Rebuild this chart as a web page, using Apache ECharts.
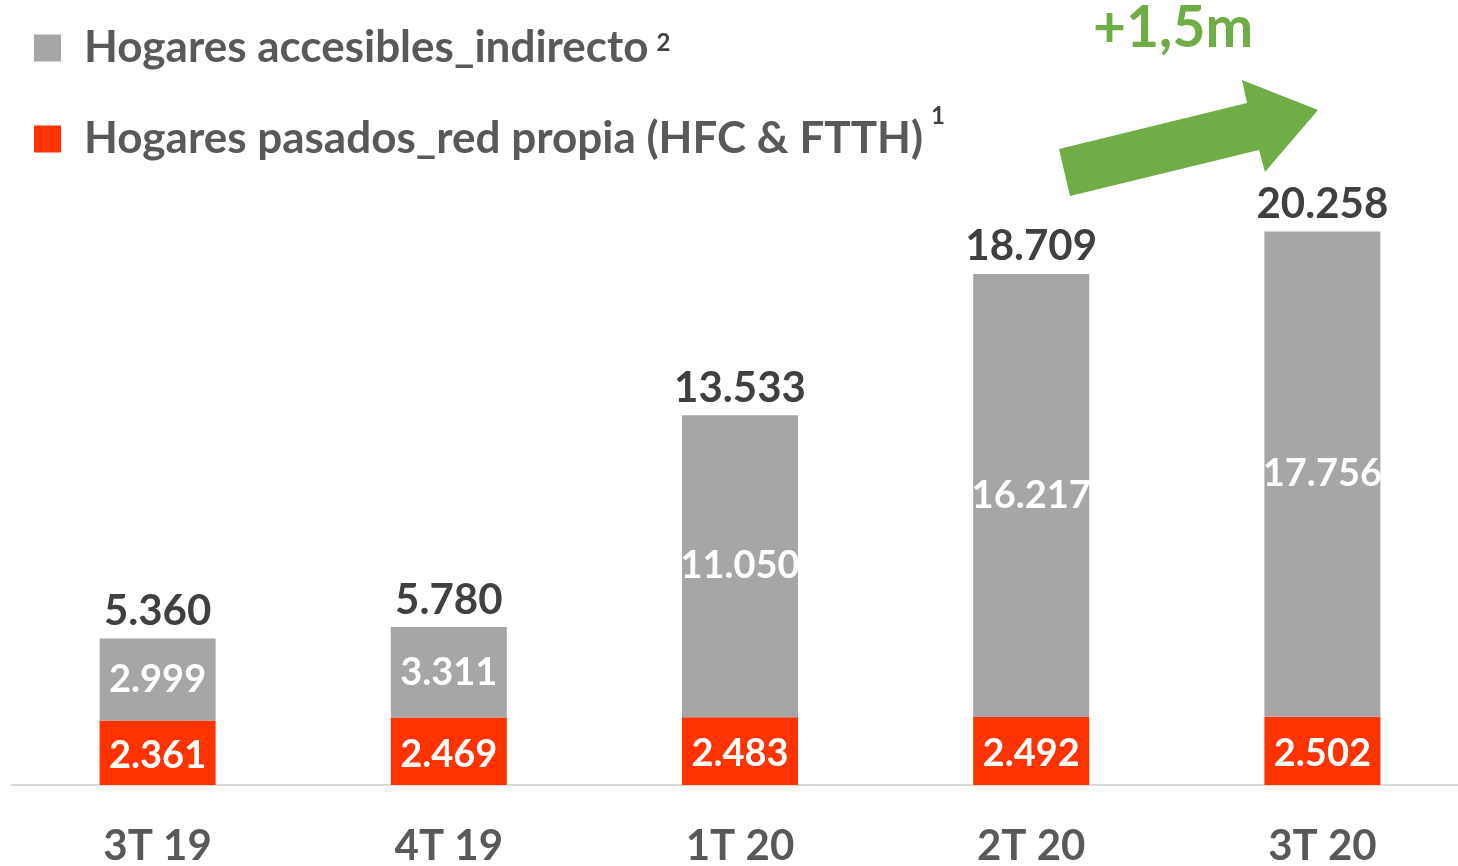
<!DOCTYPE html>
<html>
<head>
<meta charset="utf-8">
<script src="https://cdn.jsdelivr.net/npm/echarts@6/dist/echarts.min.js"></script>
<style>
  html, body { margin: 0; padding: 0; background: #fff; }
  #chart { width: 1458px; height: 866px; }
</style>
</head>
<body>
<div id="chart"></div>
<script>
const quarters = ['3T 19', '4T 19', '1T 20', '2T 20', '3T 20'];
const redPropia = [2361, 2469, 2483, 2492, 2502];
const accesibles = [2999, 3311, 11050, 16217, 17756];
const growthLabel = '+1,5m';

const totals = quarters.map((q, i) => redPropia[i] + accesibles[i]);
const FONT = 'Lato';

// 12345 -> "12.345"
function fmt(v) {
    return String(v).replace(/\B(?=(\d{3})+(?!\d))/g, '.');
}

const chart = echarts.init(document.getElementById('chart'));

const option = {
    animation: false,
    textStyle: { fontFamily: FONT },
    grid: { left: 12, width: 1456, top: 184, bottom: 81, outerBoundsMode: 'none' },
    legend: {
        orient: 'vertical',
        left: 34,
        top: 26,
        padding: 0,
        itemWidth: 27,
        itemHeight: 27,
        itemGap: 33,
        icon: 'rect',
        data: ['accesibles', 'propia'],
        formatter: function (name) {
            if (name === 'accesibles') return '{t|Hogares accesibles_indirecto}{s|2}';
            return '{t|Hogares pasados_red propia (HFC & FTTH)}{s1|1}';
        },
        textStyle: {
            rich: {
                t: { fontSize: 44, fontWeight: 'bold', color: '#595959', fontFamily: FONT, lineHeight: 46, padding: [0, 0, 0, 18] },
                s: { fontSize: 24, fontWeight: 'bold', color: '#404040', fontFamily: FONT, verticalAlign: 'bottom', lineHeight: 24, padding: [0, 0, 16, 8] },
                s1: { fontSize: 24, fontWeight: 'bold', color: '#404040', fontFamily: FONT, verticalAlign: 'bottom', lineHeight: 24, padding: [0, 0, 34, 8] }
            }
        }
    },
    xAxis: {
        type: 'category',
        data: quarters,
        axisLine: { show: true, lineStyle: { color: '#d9d9d9', width: 2 } },
        axisTick: { show: false },
        axisLabel: {
            margin: 40,
            fontSize: 42,
            fontWeight: 'bold',
            color: '#595959',
            fontFamily: FONT
        }
    },
    yAxis: {
        type: 'value',
        min: 0,
        max: 22000,
        show: false,
        splitLine: { show: false }
    },
    series: [
        {
            name: 'propia',
            type: 'bar',
            stack: 'total',
            barWidth: 116,
            data: redPropia,
            itemStyle: { color: '#ff3300' },
            label: {
                show: true,
                position: 'inside',
                offset: [0, 3],
                fontSize: 38,
                fontWeight: 'bold',
                color: '#fff',
                fontFamily: FONT,
                formatter: p => fmt(p.value)
            }
        },
        {
            name: 'accesibles',
            type: 'bar',
            stack: 'total',
            barWidth: 116,
            data: accesibles,
            itemStyle: { color: '#a6a6a6' },
            label: {
                show: true,
                position: 'inside',
                fontSize: 38,
                fontWeight: 'bold',
                color: '#fff',
                fontFamily: FONT,
                formatter: p => fmt(p.value)
            }
        },
        {
            // invisible series just to carry total labels on top
            name: 'totalLabel',
            type: 'bar',
            stack: 'total',
            barWidth: 116,
            data: quarters.map(() => 0),
            itemStyle: { color: 'transparent' },
            label: {
                show: true,
                position: 'top',
                distance: 6,
                fontSize: 42,
                fontWeight: 'bold',
                color: '#404040',
                fontFamily: FONT,
                formatter: p => fmt(totals[p.dataIndex])
            }
        }
    ],
    graphic: [
        {
            type: 'polygon',
            shape: {
                points: [[1059, 149], [1247, 103], [1242, 80], [1318, 110], [1265, 172], [1259, 150], [1070, 196]]
            },
            style: { fill: '#70ad47' }
        },
        {
            type: 'text',
            left: 1093,
            top: 0,
            style: {
                text: growthLabel,
                fill: '#70ad47',
                fontSize: 57,
                fontWeight: 'bold',
                fontFamily: FONT
            }
        }
    ]
};

chart.setOption(option);
</script>
</body>
</html>
